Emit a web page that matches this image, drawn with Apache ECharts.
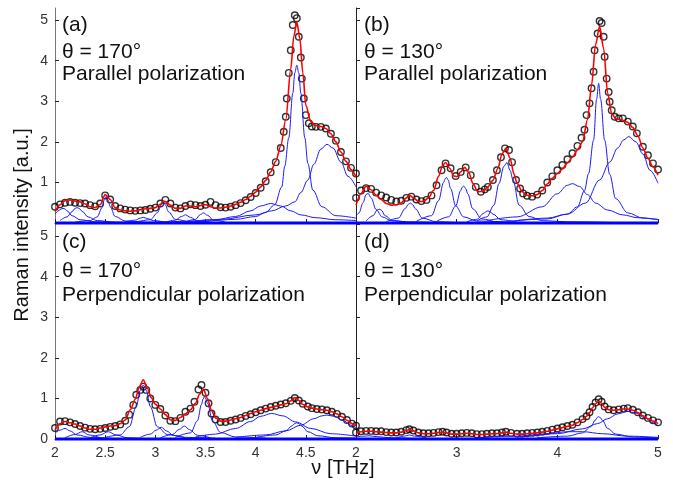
<!DOCTYPE html>
<html>
<head>
<meta charset="utf-8">
<script src="https://cdn.jsdelivr.net/npm/echarts@6/dist/echarts.min.js"></script>
<style>html,body{margin:0;padding:0;background:#fff}#c{width:673px;height:483px}</style>
</head>
<body>
<div id="c"></div>
<script>
// ---------- data (frequency THz, intensity a.u.) ----------
const xTicksLeft = [2, 2.5, 3, 3.5, 4, 4.5, 5];
const xTicksRight = [2, 3, 4, 5];
const yTicks = [0, 1, 2, 3, 4, 5];

// Panel (a): theta = 170, parallel
const dataA = [[2.00,0.40],[2.05,0.46],[2.10,0.50],[2.15,0.52],[2.20,0.50],[2.25,0.49],[2.30,0.48],[2.35,0.44],[2.40,0.41],[2.45,0.48],[2.50,0.68],[2.55,0.58],[2.60,0.42],[2.65,0.36],[2.70,0.33],[2.75,0.31],[2.80,0.30],[2.85,0.31],[2.90,0.32],[2.95,0.35],[3.00,0.38],[3.05,0.48],[3.10,0.57],[3.15,0.48],[3.20,0.38],[3.25,0.36],[3.30,0.42],[3.35,0.46],[3.40,0.44],[3.45,0.42],[3.50,0.45],[3.55,0.52],[3.60,0.44],[3.65,0.39],[3.70,0.38],[3.75,0.40],[3.80,0.44],[3.85,0.49],[3.90,0.56],[3.95,0.64],[4.00,0.74],[4.05,0.87],[4.10,1.03],[4.15,1.25],[4.20,1.50],[4.25,1.85],[4.28,2.25],[4.30,2.62],[4.31,3.07],[4.33,3.70],[4.35,4.26],[4.37,4.88],[4.39,5.12],[4.41,5.05],[4.43,4.59],[4.45,4.08],[4.46,3.56],[4.48,3.07],[4.50,2.66],[4.53,2.46],[4.56,2.38],[4.60,2.37],[4.65,2.37],[4.70,2.33],[4.75,2.20],[4.80,2.03],[4.85,1.75],[4.90,1.52],[4.95,1.36],[5.00,1.22]];
const fitA = [[2.00,0.28],[2.05,0.45],[2.10,0.55],[2.15,0.57],[2.20,0.54],[2.25,0.52],[2.30,0.47],[2.35,0.40],[2.40,0.38],[2.45,0.45],[2.50,0.70],[2.55,0.58],[2.60,0.38],[2.65,0.32],[2.70,0.30],[2.75,0.29],[2.80,0.30],[2.85,0.33],[2.90,0.35],[2.95,0.36],[3.00,0.38],[3.05,0.46],[3.08,0.54],[3.10,0.53],[3.15,0.44],[3.20,0.36],[3.25,0.36],[3.30,0.42],[3.35,0.42],[3.40,0.40],[3.45,0.43],[3.48,0.46],[3.50,0.45],[3.55,0.40],[3.60,0.37],[3.65,0.37],[3.70,0.39],[3.75,0.42],[3.80,0.46],[3.85,0.51],[3.90,0.58],[3.95,0.66],[4.00,0.76],[4.05,0.89],[4.10,1.05],[4.15,1.26],[4.20,1.52],[4.25,1.90],[4.30,2.55],[4.35,3.80],[4.38,4.60],[4.41,4.96],[4.44,4.55],[4.47,3.70],[4.50,2.90],[4.55,2.50],[4.60,2.40],[4.65,2.38],[4.70,2.33],[4.75,2.20],[4.80,2.00],[4.85,1.75],[4.90,1.52],[4.95,1.32],[5.00,1.14]];
const compA = [
 [[2.0,0.22],[2.04,0.31],[2.06,0.345],[2.08,0.36],[2.10,0.345],[2.12,0.30],[2.17,0.18],[2.25,0.08],[2.4,0.03],[2.7,0.01]],
 [[2.05,0.06],[2.12,0.15],[2.17,0.28],[2.20,0.36],[2.22,0.38],[2.24,0.36],[2.27,0.29],[2.33,0.15],[2.42,0.06],[2.6,0.02],[2.9,0.01]],
 [[2.2,0.02],[2.35,0.06],[2.42,0.15],[2.47,0.38],[2.49,0.56],[2.51,0.65],[2.53,0.56],[2.55,0.40],[2.6,0.16],[2.7,0.05],[2.9,0.02],[3.2,0.01]],
 [[2.7,0.03],[2.8,0.07],[2.85,0.12],[2.88,0.14],[2.92,0.11],[2.98,0.06],[3.1,0.02]],
 [[2.8,0.02],[2.95,0.08],[3.02,0.25],[3.06,0.45],[3.08,0.50],[3.10,0.45],[3.13,0.28],[3.2,0.09],[3.35,0.03],[3.6,0.01]],
 [[3.1,0.02],[3.2,0.07],[3.26,0.16],[3.30,0.20],[3.35,0.14],[3.42,0.05],[3.55,0.02]],
 [[3.3,0.03],[3.4,0.09],[3.45,0.21],[3.48,0.25],[3.52,0.19],[3.58,0.07],[3.7,0.02]],
 [[3.3,0.03],[3.6,0.08],[3.8,0.16],[3.95,0.30],[4.05,0.42],[4.15,0.48],[4.25,0.42],[4.35,0.30],[4.45,0.20],[4.6,0.13],[4.8,0.08],[5.0,0.06]],
 [[3.0,0.02],[3.5,0.05],[3.8,0.09],[4.0,0.16],[4.1,0.26],[4.19,0.45],[4.26,0.89],[4.29,1.40],[4.33,2.1],[4.37,3.2],[4.39,3.7],[4.41,3.89],[4.43,3.7],[4.45,3.2],[4.49,2.1],[4.52,1.47],[4.57,0.81],[4.66,0.40],[4.8,0.18],[5.0,0.12]],
 [[3.4,0.05],[3.66,0.09],[4.0,0.2],[4.16,0.3],[4.3,0.42],[4.39,0.52],[4.45,0.75],[4.52,1.06],[4.58,1.45],[4.65,1.82],[4.71,1.94],[4.77,1.85],[4.85,1.5],[4.92,1.15],[5.0,0.89]]
];

// Panel (b): theta = 130, parallel
const dataB = [[2.00,0.62],[2.05,0.80],[2.10,0.86],[2.15,0.84],[2.20,0.75],[2.25,0.68],[2.30,0.63],[2.35,0.57],[2.40,0.53],[2.45,0.55],[2.50,0.62],[2.55,0.65],[2.60,0.58],[2.65,0.54],[2.70,0.57],[2.75,0.68],[2.80,0.93],[2.85,1.30],[2.89,1.47],[2.94,1.35],[2.99,1.16],[3.04,1.26],[3.09,1.37],[3.14,1.18],[3.19,0.89],[3.24,0.77],[3.28,0.83],[3.31,0.89],[3.36,1.06],[3.40,1.30],[3.44,1.62],[3.48,1.84],[3.52,1.80],[3.55,1.50],[3.59,1.06],[3.63,0.85],[3.66,0.73],[3.70,0.67],[3.75,0.65],[3.80,0.70],[3.85,0.80],[3.90,1.00],[3.95,1.15],[4.00,1.30],[4.05,1.43],[4.10,1.57],[4.15,1.72],[4.20,1.90],[4.24,2.10],[4.27,2.30],[4.29,2.66],[4.32,2.95],[4.34,3.32],[4.36,3.73],[4.37,4.26],[4.40,4.67],[4.42,4.98],[4.44,4.93],[4.46,4.59],[4.47,4.10],[4.49,3.56],[4.51,3.23],[4.52,2.99],[4.54,2.78],[4.57,2.62],[4.61,2.58],[4.65,2.58],[4.70,2.50],[4.75,2.38],[4.79,2.21],[4.85,1.88],[4.90,1.67],[4.95,1.47],[5.00,1.32]];
const fitB = [[2.00,0.44],[2.05,0.72],[2.10,0.91],[2.15,0.82],[2.20,0.69],[2.25,0.58],[2.30,0.48],[2.35,0.44],[2.40,0.45],[2.45,0.50],[2.50,0.62],[2.53,0.69],[2.57,0.62],[2.62,0.53],[2.67,0.53],[2.72,0.62],[2.77,0.80],[2.82,1.15],[2.86,1.42],[2.89,1.49],[2.93,1.35],[2.97,1.16],[3.00,1.14],[3.04,1.26],[3.08,1.37],[3.12,1.25],[3.16,0.98],[3.21,0.77],[3.26,0.78],[3.31,0.89],[3.36,1.05],[3.41,1.35],[3.45,1.70],[3.49,1.84],[3.53,1.60],[3.57,1.20],[3.60,0.98],[3.65,0.78],[3.69,0.69],[3.75,0.67],[3.80,0.70],[3.85,0.80],[3.90,0.96],[3.95,1.10],[4.00,1.22],[4.05,1.33],[4.10,1.48],[4.15,1.62],[4.20,1.80],[4.25,2.00],[4.30,2.55],[4.34,3.40],[4.38,4.40],[4.42,4.85],[4.46,4.30],[4.50,3.20],[4.54,2.70],[4.58,2.57],[4.64,2.54],[4.70,2.48],[4.75,2.35],[4.80,2.15],[4.85,1.85],[4.90,1.60],[4.95,1.38],[5.00,1.18]];
const compB = [
 [[2.0,0.17],[2.03,0.25],[2.07,0.5],[2.10,0.70],[2.12,0.73],[2.15,0.62],[2.2,0.33],[2.26,0.15],[2.35,0.06],[2.5,0.03],[2.8,0.01]],
 [[2.1,0.05],[2.17,0.18],[2.21,0.32],[2.23,0.34],[2.25,0.32],[2.29,0.18],[2.36,0.06],[2.5,0.02]],
 [[2.3,0.03],[2.42,0.12],[2.49,0.36],[2.52,0.46],[2.54,0.49],[2.56,0.46],[2.59,0.35],[2.66,0.12],[2.8,0.03],[3.0,0.01]],
 [[2.6,0.04],[2.75,0.18],[2.82,0.55],[2.87,1.0],[2.885,1.09],[2.90,1.12],[2.915,1.06],[2.94,0.85],[2.99,0.42],[3.07,0.15],[3.2,0.05],[3.5,0.02]],
 [[2.8,0.04],[2.92,0.15],[2.99,0.42],[3.04,0.8],[3.055,0.88],[3.07,0.91],[3.09,0.85],[3.11,0.72],[3.16,0.35],[3.25,0.1],[3.4,0.03],[3.7,0.01]],
 [[3.1,0.03],[3.2,0.09],[3.27,0.24],[3.29,0.28],[3.31,0.30],[3.33,0.28],[3.36,0.22],[3.44,0.08],[3.6,0.02]],
 [[3.2,0.05],[3.3,0.15],[3.37,0.44],[3.42,0.97],[3.47,1.40],[3.50,1.49],[3.53,1.30],[3.56,1.06],[3.62,0.44],[3.72,0.16],[3.85,0.06],[4.1,0.03],[4.6,0.01]],
 [[3.3,0.06],[3.6,0.15],[3.85,0.40],[4.0,0.72],[4.1,0.93],[4.15,0.97],[4.22,0.90],[4.3,0.70],[4.38,0.49],[4.5,0.32],[4.65,0.20],[4.8,0.13],[5.0,0.09]],
 [[3.5,0.04],[3.9,0.1],[4.1,0.22],[4.2,0.4],[4.27,0.8],[4.31,1.22],[4.36,2.04],[4.39,3.05],[4.41,3.44],[4.43,3.05],[4.47,2.04],[4.52,1.2],[4.58,0.6],[4.7,0.25],[4.85,0.12],[5.0,0.08]],
 [[3.6,0.06],[3.9,0.12],[4.1,0.22],[4.28,0.49],[4.42,1.06],[4.52,1.5],[4.6,1.85],[4.66,2.05],[4.71,2.13],[4.78,2.0],[4.85,1.7],[4.92,1.3],[5.0,0.98]]
];

// Panel (c): theta = 170, perpendicular
const dataC = [[2.00,0.27],[2.05,0.43],[2.10,0.44],[2.15,0.41],[2.20,0.37],[2.25,0.32],[2.30,0.28],[2.35,0.25],[2.40,0.24],[2.45,0.25],[2.50,0.27],[2.55,0.30],[2.60,0.32],[2.65,0.36],[2.70,0.45],[2.74,0.60],[2.78,0.84],[2.81,1.09],[2.85,1.21],[2.88,1.29],[2.91,1.21],[2.95,1.00],[3.00,0.84],[3.05,0.74],[3.10,0.58],[3.15,0.45],[3.20,0.44],[3.25,0.52],[3.30,0.67],[3.35,0.75],[3.39,0.92],[3.43,1.22],[3.46,1.33],[3.50,1.14],[3.53,0.88],[3.56,0.63],[3.60,0.48],[3.65,0.42],[3.70,0.42],[3.75,0.45],[3.80,0.48],[3.85,0.52],[3.90,0.57],[3.95,0.61],[4.00,0.66],[4.05,0.71],[4.10,0.75],[4.15,0.79],[4.20,0.82],[4.25,0.85],[4.30,0.88],[4.35,0.94],[4.39,1.01],[4.43,0.95],[4.47,0.87],[4.52,0.80],[4.56,0.76],[4.61,0.74],[4.66,0.73],[4.71,0.71],[4.76,0.67],[4.81,0.62],[4.86,0.55],[4.91,0.47],[4.96,0.38],[5.00,0.33]];
const fitC = [[2.00,0.22],[2.05,0.38],[2.10,0.43],[2.15,0.40],[2.20,0.37],[2.25,0.32],[2.30,0.27],[2.35,0.24],[2.40,0.24],[2.45,0.27],[2.50,0.30],[2.55,0.32],[2.60,0.33],[2.65,0.38],[2.70,0.47],[2.75,0.72],[2.80,0.98],[2.84,1.28],[2.88,1.46],[2.92,1.25],[2.96,1.02],[3.00,0.86],[3.05,0.74],[3.10,0.60],[3.15,0.47],[3.20,0.46],[3.25,0.53],[3.30,0.62],[3.35,0.72],[3.40,0.88],[3.44,1.10],[3.48,1.22],[3.52,1.00],[3.56,0.70],[3.60,0.52],[3.65,0.44],[3.70,0.44],[3.75,0.47],[3.80,0.50],[3.85,0.53],[3.90,0.58],[3.95,0.63],[4.00,0.67],[4.05,0.71],[4.10,0.75],[4.15,0.78],[4.20,0.81],[4.25,0.84],[4.30,0.87],[4.35,0.94],[4.39,1.02],[4.43,0.95],[4.47,0.85],[4.52,0.79],[4.56,0.76],[4.61,0.74],[4.66,0.72],[4.71,0.71],[4.76,0.67],[4.81,0.62],[4.86,0.55],[4.91,0.46],[4.96,0.38],[5.00,0.32]];
const compC = [
 [[2.0,0.14],[2.05,0.22],[2.10,0.26],[2.15,0.2],[2.22,0.1],[2.35,0.04],[2.6,0.01]],
 [[2.1,0.03],[2.2,0.11],[2.27,0.18],[2.34,0.10],[2.45,0.03]],
 [[2.35,0.03],[2.45,0.10],[2.53,0.18],[2.61,0.10],[2.72,0.03],[2.9,0.01]],
 [[2.5,0.04],[2.65,0.10],[2.74,0.3],[2.81,0.8],[2.85,1.2],[2.88,1.33],[2.91,1.2],[2.95,0.8],[3.02,0.3],[3.12,0.11],[3.3,0.04],[3.6,0.02]],
 [[2.85,0.04],[2.95,0.12],[3.01,0.22],[3.06,0.29],[3.11,0.2],[3.18,0.09],[3.3,0.03]],
 [[3.05,0.03],[3.17,0.11],[3.24,0.24],[3.29,0.32],[3.34,0.23],[3.42,0.09],[3.55,0.03]],
 [[3.2,0.04],[3.35,0.15],[3.42,0.45],[3.46,0.85],[3.475,0.98],[3.49,1.05],[3.505,0.98],[3.52,0.88],[3.57,0.45],[3.65,0.16],[3.8,0.05],[4.1,0.02]],
 [[3.4,0.05],[3.6,0.12],[3.8,0.26],[3.95,0.43],[4.05,0.56],[4.16,0.63],[4.27,0.57],[4.4,0.42],[4.55,0.26],[4.75,0.13],[5.0,0.07]],
 [[4.0,0.04],[4.2,0.1],[4.3,0.2],[4.36,0.32],[4.39,0.38],[4.41,0.40],[4.43,0.38],[4.46,0.32],[4.52,0.18],[4.62,0.08],[4.8,0.03],[5.0,0.02]],
 [[3.8,0.04],[4.1,0.1],[4.3,0.2],[4.45,0.34],[4.58,0.5],[4.66,0.57],[4.71,0.59],[4.78,0.56],[4.87,0.46],[4.95,0.34],[5.0,0.27]]
];

// Panel (d): theta = 130, perpendicular
const dataD = [[2.00,0.16],[2.05,0.19],[2.10,0.20],[2.15,0.20],[2.20,0.19],[2.25,0.19],[2.30,0.17],[2.35,0.16],[2.40,0.16],[2.45,0.18],[2.50,0.22],[2.53,0.24],[2.57,0.21],[2.62,0.16],[2.67,0.14],[2.72,0.14],[2.77,0.15],[2.82,0.17],[2.86,0.18],[2.90,0.16],[2.95,0.13],[3.00,0.13],[3.05,0.14],[3.10,0.15],[3.15,0.14],[3.20,0.12],[3.25,0.12],[3.30,0.13],[3.35,0.14],[3.40,0.14],[3.45,0.16],[3.49,0.18],[3.54,0.15],[3.60,0.13],[3.65,0.13],[3.70,0.14],[3.75,0.15],[3.80,0.16],[3.85,0.18],[3.90,0.20],[3.95,0.23],[4.00,0.26],[4.05,0.29],[4.10,0.32],[4.15,0.35],[4.20,0.41],[4.25,0.49],[4.29,0.56],[4.32,0.66],[4.35,0.79],[4.38,0.90],[4.41,0.98],[4.44,0.92],[4.47,0.80],[4.51,0.73],[4.56,0.71],[4.61,0.73],[4.66,0.75],[4.70,0.76],[4.75,0.72],[4.80,0.66],[4.85,0.58],[4.90,0.52],[4.95,0.46],[5.00,0.41]];
const fitD = [[2.00,0.14],[2.05,0.18],[2.10,0.19],[2.15,0.19],[2.20,0.18],[2.25,0.17],[2.30,0.16],[2.35,0.15],[2.40,0.15],[2.45,0.17],[2.50,0.21],[2.53,0.23],[2.57,0.20],[2.62,0.15],[2.67,0.13],[2.72,0.13],[2.77,0.14],[2.82,0.16],[2.86,0.17],[2.90,0.15],[2.95,0.12],[3.00,0.12],[3.05,0.13],[3.10,0.14],[3.15,0.13],[3.20,0.11],[3.25,0.11],[3.30,0.12],[3.35,0.13],[3.40,0.13],[3.45,0.15],[3.49,0.17],[3.54,0.14],[3.60,0.12],[3.65,0.12],[3.70,0.13],[3.75,0.14],[3.80,0.15],[3.85,0.17],[3.90,0.19],[3.95,0.22],[4.00,0.25],[4.05,0.28],[4.10,0.31],[4.15,0.34],[4.20,0.40],[4.25,0.48],[4.29,0.56],[4.32,0.65],[4.35,0.77],[4.38,0.87],[4.41,0.93],[4.44,0.88],[4.47,0.78],[4.51,0.72],[4.56,0.71],[4.61,0.72],[4.66,0.74],[4.70,0.74],[4.75,0.71],[4.80,0.65],[4.85,0.57],[4.90,0.50],[4.95,0.44],[5.00,0.38]];
const compD = [
 [[2.0,0.05],[2.08,0.07],[2.13,0.08],[2.2,0.06],[2.35,0.03],[2.6,0.01]],
 [[2.4,0.03],[2.48,0.07],[2.53,0.10],[2.58,0.07],[2.7,0.03]],
 [[3.2,0.03],[3.6,0.07],[3.9,0.13],[4.1,0.18],[4.25,0.18],[4.45,0.13],[4.7,0.07],[5.0,0.04]],
 [[3.8,0.03],[4.1,0.07],[4.25,0.15],[4.33,0.3],[4.38,0.47],[4.395,0.53],[4.41,0.55],[4.43,0.52],[4.45,0.45],[4.5,0.26],[4.58,0.12],[4.75,0.05],[5.0,0.02]],
 [[3.6,0.05],[4.0,0.13],[4.25,0.25],[4.4,0.38],[4.5,0.50],[4.6,0.62],[4.7,0.68],[4.78,0.64],[4.87,0.52],[4.95,0.40],[5.0,0.33]]
];
const baseline = [[2, 0], [5, 0]];

// ---------- chart ----------
const FONT = 'Liberation Sans, Arial, sans-serif';
const chart = echarts.init(document.getElementById('c'), null, {renderer: 'canvas'});

const grids = [
  {left: 55, top: 8, width: 301, height: 215},
  {left: 356, top: 8, width: 302, height: 215},
  {left: 55, top: 224, width: 301, height: 215},
  {left: 356, top: 224, width: 302, height: 215}
];
const xAxes = grids.map((g, i) => {
  const left = (i % 2 === 0);
  const ticks = left ? xTicksLeft : xTicksRight;
  return {
    type: 'value', gridIndex: i, min: ticks[0], max: ticks[ticks.length - 1],
    interval: ticks[1] - ticks[0],
    axisLine: {show: true, lineStyle: {color: '#222', width: 1}},
    axisTick: {show: true, inside: true, length: 4, lineStyle: {color: '#222'}},
    axisLabel: {show: i >= 2, showMaxLabel: !left, fontFamily: FONT, fontSize: 14, color: '#333', margin: 7},
    splitLine: {show: false}
  };
});
const yAxes = grids.map((g, i) => ({
  type: 'value', gridIndex: i, min: yTicks[0], max: 5.3, interval: yTicks[1] - yTicks[0],
  axisLine: {show: true, lineStyle: {color: i % 2 === 0 ? '#777' : '#222', width: 1}},
  axisTick: {show: true, inside: true, length: 4, lineStyle: {color: '#222'}},
  axisLabel: {show: i % 2 === 0, showMinLabel: i >= 2, fontFamily: FONT, fontSize: 14, color: '#333', margin: 7},
  splitLine: {show: false}
}));

const series = [];
const panels = [[dataA, fitA, compA], [dataB, fitB, compB], [dataC, fitC, compC], [dataD, fitD, compD]];
panels.forEach(([d, f, comps], i) => {
  series.push({
    type: 'scatter', xAxisIndex: i, yAxisIndex: i, data: d, symbol: 'circle', symbolSize: 6.5,
    itemStyle: {color: 'rgba(255,255,255,0)', borderColor: '#000', borderWidth: 1.4}, z: 2, silent: true
  });
  comps.forEach(c => series.push({
    type: 'line', xAxisIndex: i, yAxisIndex: i, data: c, showSymbol: false, smooth: 0.35, smoothMonotone: 'x',
    lineStyle: {color: '#1a1aff', width: 1}, z: 3, silent: true
  }));
  series.push({
    type: 'line', xAxisIndex: i, yAxisIndex: i, data: baseline, showSymbol: false, clip: false,
    lineStyle: {color: '#0000ff', width: 3}, z: 3, silent: true
  });
  series.push({
    type: 'line', xAxisIndex: i, yAxisIndex: i, data: f, showSymbol: false, smooth: 0.3, smoothMonotone: 'x',
    lineStyle: {color: '#ff0000', width: 1.6}, z: 4, silent: true
  });
});

const labels = [
  ['(a)', 62, 25], ['θ = 170°', 62, 52], ['Parallel polarization', 62, 74],
  ['(b)', 364, 25], ['θ = 130°', 364, 52], ['Parallel polarization', 364, 74],
  ['(c)', 62, 242], ['θ = 170°', 62, 271], ['Perpendicular polarization', 62, 295],
  ['(d)', 364, 242], ['θ = 130°', 364, 271], ['Perpendicular polarization', 364, 295]
];
const graphic = labels.map(([s, x, y]) => ({
  type: 'text', x: x, y: y, z: 10,
  style: {text: s, font: '21px ' + FONT, fill: '#111', verticalAlign: 'middle', align: 'left'}
}));
graphic.push({
  type: 'text', x: 22, y: 225, rotation: Math.PI / 2, z: 10,
  style: {text: 'Raman intensity [a.u.]', font: '20px ' + FONT, fill: '#111', align: 'center', verticalAlign: 'middle'}
});
graphic.push({
  type: 'text', x: 343, y: 468, z: 10,
  style: {text: 'ν [THz]', font: '20px ' + FONT, fill: '#111', align: 'center', verticalAlign: 'middle'}
});

chart.setOption({
  animation: false,
  backgroundColor: '#fff',
  grid: grids,
  xAxis: xAxes,
  yAxis: yAxes,
  series: series,
  graphic: graphic
});
</script>
</body>
</html>
